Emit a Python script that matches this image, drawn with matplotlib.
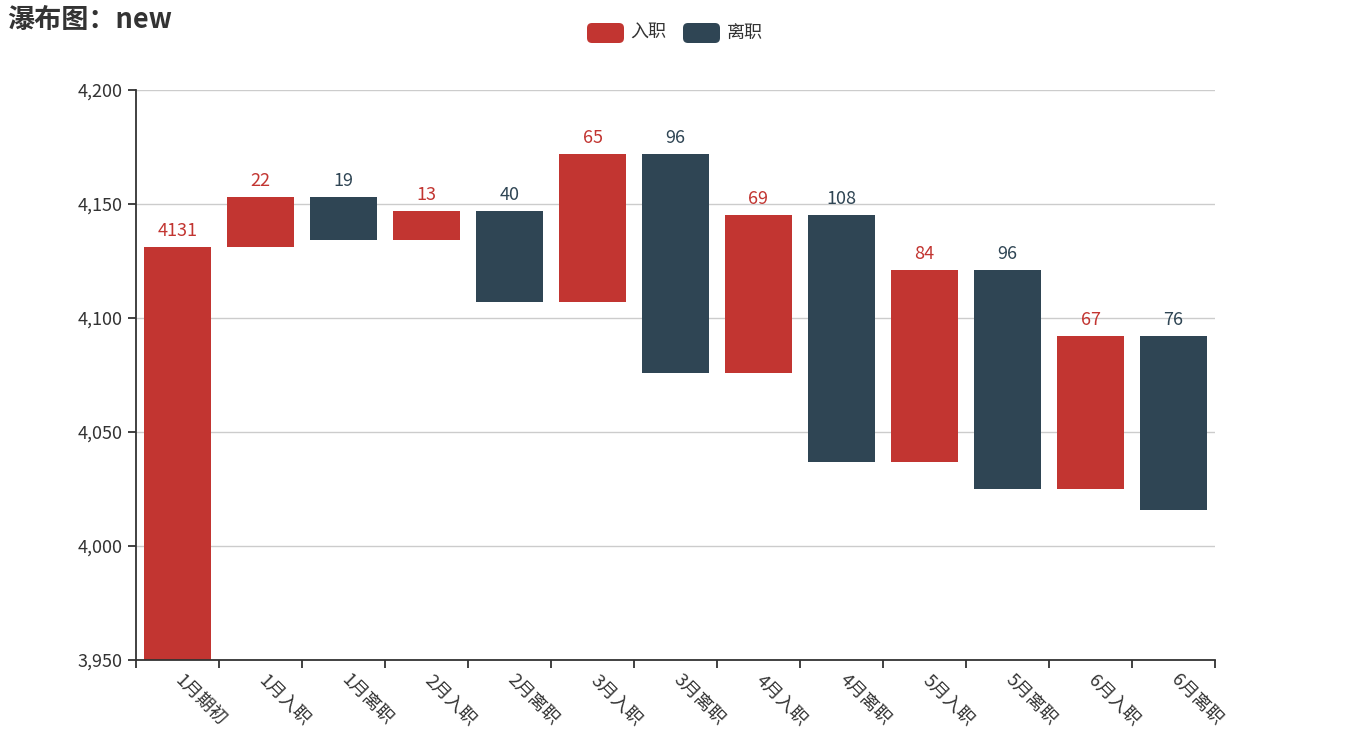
import matplotlib
matplotlib.use("Agg")
import matplotlib.pyplot as plt
from matplotlib.patches import FancyBboxPatch
from matplotlib.transforms import IdentityTransform
from matplotlib.ticker import FuncFormatter, FixedLocator

plt.rcParams['font.family'] = ['Noto Sans CJK SC', 'DejaVu Sans']

categories = ["1月期初", "1月入职", "1月离职", "2月入职", "2月离职", "3月入职", "3月离职",
              "4月入职", "4月离职", "5月入职", "5月离职", "6月入职", "6月离职"]
kinds = ["入职", "入职", "离职", "入职", "离职", "入职", "离职",
         "入职", "离职", "入职", "离职", "入职", "离职"]
values = [4131, 22, 19, 13, 40, 65, 96, 69, 108, 84, 96, 67, 76]
y_ticks = [3950, 4000, 4050, 4100, 4150, 4200]
title = "瀑布图：new"
series_names = ["入职", "离职"]
colors = {"入职": "#c23531", "离职": "#2f4554"}
text_color = "#333333"

# compute waterfall bases from the data
bottoms, heights, tops = [], [], []
running = 0
for k, v in zip(kinds, values):
    if k == "入职":
        bottoms.append(running)
        heights.append(v)
        running += v
        tops.append(running)
    else:
        tops.append(running)
        running -= v
        bottoms.append(running)
        heights.append(v)

W, H = 1350, 750
fig = plt.figure(figsize=(W / 100, H / 100), dpi=100)
ax = fig.add_axes([136 / W, 1 - 660 / H, (1215 - 136) / W, (660 - 90) / H])

x = list(range(len(categories)))
ax.bar(x, heights, bottom=bottoms, width=0.8,
       color=[colors[k] for k in kinds], zorder=2)

for xi, t, v, k in zip(x, tops, values, kinds):
    ax.annotate(str(v), (xi, t), xytext=(0, 5), textcoords="offset points",
                ha="center", va="bottom", fontsize=13, color=colors[k], zorder=3)

ax.set_xlim(-0.5, len(categories) - 0.5)
ax.set_ylim(y_ticks[0], y_ticks[-1])
ax.yaxis.set_major_locator(FixedLocator(y_ticks))
ax.yaxis.set_major_formatter(FuncFormatter(lambda v, p: f"{int(v):,}"))
ax.grid(axis="y", color="#cccccc", linewidth=1.0, zorder=0)
ax.set_axisbelow(True)

for s in ["top", "right"]:
    ax.spines[s].set_visible(False)
for s in ["left", "bottom"]:
    ax.spines[s].set_color(text_color)
    ax.spines[s].set_linewidth(1.3)

ax.tick_params(axis="y", length=5.5, width=1.3, color=text_color, labelsize=13,
               labelcolor=text_color, pad=4)
# ticks at category boundaries
ax.set_xticks([i - 0.5 for i in range(len(categories) + 1)])
ax.set_xticklabels([])
ax.tick_params(axis="x", length=5.5, width=1.3, color=text_color)

# rotated category labels anchored at category centers
for xi, c in zip(x, categories):
    ax.annotate(c, (xi, y_ticks[0]), xytext=(0, -13), textcoords="offset points",
                rotation=-45, rotation_mode="anchor", ha="left", va="center",
                fontsize=13, color=text_color, annotation_clip=False)

fig.text(7 / W, 1 - 20 / H, title, fontsize=19.5, fontweight="bold",
         color=text_color, ha="left", va="center")

# legend (pixel coordinates)
legend_items = [(587, 630, series_names[0]), (683, 727, series_names[1])]
for rx, tx, name in legend_items:
    fig.patches.append(FancyBboxPatch((rx, H - 43), 37, 20,
                                      boxstyle="round,pad=0,rounding_size=5",
                                      transform=IdentityTransform(),
                                      facecolor=colors[name], edgecolor="none"))
    fig.text(tx / W, 1 - 33 / H, name, fontsize=13, color=text_color,
             ha="left", va="center")

fig.savefig("out.png", dpi=100)
